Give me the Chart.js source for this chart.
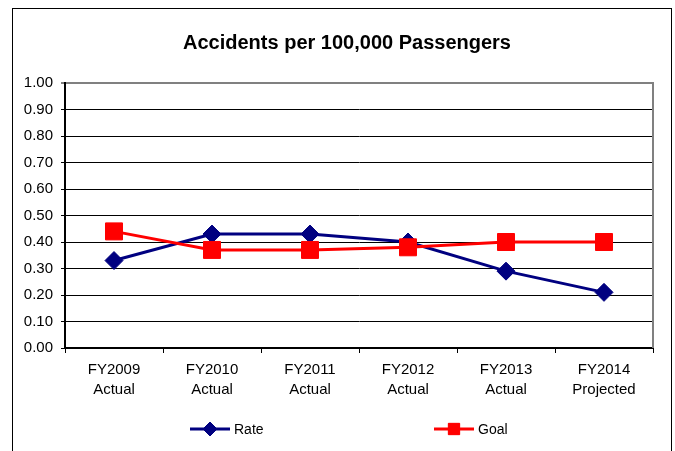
<!DOCTYPE html>
<html>
<head>
<meta charset="utf-8">
<script src="https://cdn.jsdelivr.net/npm/chart.js@4"></script>
<style>
html,body{margin:0;padding:0;background:#fff;}
#wrap{width:675px;height:451px;position:relative;}
</style>
</head>
<body>
<div id="wrap"><canvas id="c" width="675" height="451"></canvas></div>
<script>
const categories = [["FY2009","Actual"],["FY2010","Actual"],["FY2011","Actual"],["FY2012","Actual"],["FY2013","Actual"],["FY2014","Projected"]];
const rateValues = [0.33, 0.43, 0.43, 0.40, 0.29, 0.21];
const goalValues = [0.44, 0.37, 0.37, 0.38, 0.40, 0.40];
const seriesNames = ["Rate", "Goal"];
const titleText = "Accidents per 100,000 Passengers";
const yMin = 0, yMax = 1, yStep = 0.1;

const FONT = "'Liberation Sans', Arial, sans-serif";
const NAVY = "#000080";
const RED = "#FF0000";

const framePlugin = {
  id: 'frame',
  afterLayout(chart) {
    if (chart.titleBlock) { chart.titleBlock.left = 41; }
  },
  beforeDraw(chart) {
    const ctx = chart.ctx;
    ctx.save();
    ctx.fillStyle = '#fff';
    ctx.fillRect(0, 0, chart.width, chart.height);
    ctx.strokeStyle = '#000';
    ctx.lineWidth = 1;
    ctx.strokeRect(12.5, 8.5, 659, 470);
    ctx.restore();
  },
  beforeDatasetsDraw(chart) {
    const ctx = chart.ctx, a = chart.chartArea;
    ctx.save();
    ctx.strokeStyle = '#808080';
    ctx.lineWidth = 2;
    ctx.beginPath();
    ctx.moveTo(a.right, a.top - 1);
    ctx.lineTo(a.right, a.bottom);
    ctx.stroke();
    ctx.restore();
  },
  afterDraw(chart) {
    const ctx = chart.ctx;
    const y = 429;
    const items = [
      {x: 190, color: NAVY, style: 'rectRot', r: 7, text: seriesNames[0]},
      {x: 434, color: RED, style: 'rect', r: 8, text: seriesNames[1]}
    ];
    ctx.save();
    items.forEach(it => {
      ctx.strokeStyle = it.color;
      ctx.lineWidth = 3;
      ctx.beginPath();
      ctx.moveTo(it.x, y);
      ctx.lineTo(it.x + 40, y);
      ctx.stroke();
      ctx.fillStyle = it.color;
      ctx.lineWidth = 1;
      Chart.helpers.drawPoint(ctx, {pointStyle: it.style, radius: it.r, borderWidth: 1}, it.x + 20, y);
      ctx.fill();
      ctx.fillStyle = '#000';
      ctx.font = '14px ' + FONT;
      ctx.textBaseline = 'middle';
      ctx.textAlign = 'left';
      ctx.fillText(it.text, it.x + 44, y + 1);
    });
    ctx.restore();
  }
};

new Chart(document.getElementById('c'), {
  type: 'line',
  data: {
    labels: categories,
    datasets: [
      {
        label: seriesNames[0],
        data: rateValues,
        borderColor: NAVY,
        backgroundColor: NAVY,
        borderWidth: 3,
        pointStyle: 'rectRot',
        pointRadius: 9,
        pointHoverRadius: 9,
        pointBorderWidth: 1,
        tension: 0,
        order: 2
      },
      {
        label: seriesNames[1],
        data: goalValues,
        borderColor: RED,
        backgroundColor: RED,
        borderWidth: 3,
        pointStyle: 'rect',
        pointRadius: 12,
        pointHoverRadius: 12,
        pointBorderWidth: 1,
        tension: 0,
        order: 1
      }
    ]
  },
  options: {
    responsive: false,
    animation: false,
    devicePixelRatio: 1,
    layout: { padding: { left: 0, right: 22, top: 0, bottom: 53 } },
    plugins: {
      legend: { display: false },
      tooltip: { enabled: false },
      title: {
        display: true,
        text: titleText,
        color: '#000',
        font: { family: FONT, size: 20, weight: 'bold', lineHeight: 1.2 },
        padding: { top: 31, bottom: 28 }
      }
    },
    scales: {
      x: {
        offset: true,
        grid: {
          offset: true,
          drawOnChartArea: false,
          drawTicks: true,
          tickLength: 5,
          color: '#000',
          lineWidth: 1
        },
        border: { display: true, color: '#000', width: 2 },
        ticks: {
          color: '#000',
          font: { family: FONT, size: 15, lineHeight: 1.33 },
          padding: 7,
          maxRotation: 0,
          autoSkip: false
        },
        afterFit(scale) { scale.height = 50; }
      },
      y: {
        min: yMin,
        max: yMax,
        grid: {
          color: ctx => (ctx.tick && Math.abs(ctx.tick.value - yMax) < 1e-9) ? '#808080' : '#000',
          lineWidth: ctx => (ctx.tick && Math.abs(ctx.tick.value - yMax) < 1e-9) ? 2 : 1,
          tickColor: '#000',
          tickWidth: 1,
          tickLength: 4,
          drawTicks: true
        },
        border: { display: true, color: '#000', width: 2 },
        ticks: {
          stepSize: yStep,
          color: '#000',
          font: { family: FONT, size: 15 },
          padding: 8,
          callback: v => Number(v).toFixed(2)
        },
        afterFit(scale) { scale.width = 65; }
      }
    }
  },
  plugins: [framePlugin]
});
</script>
</body>
</html>
